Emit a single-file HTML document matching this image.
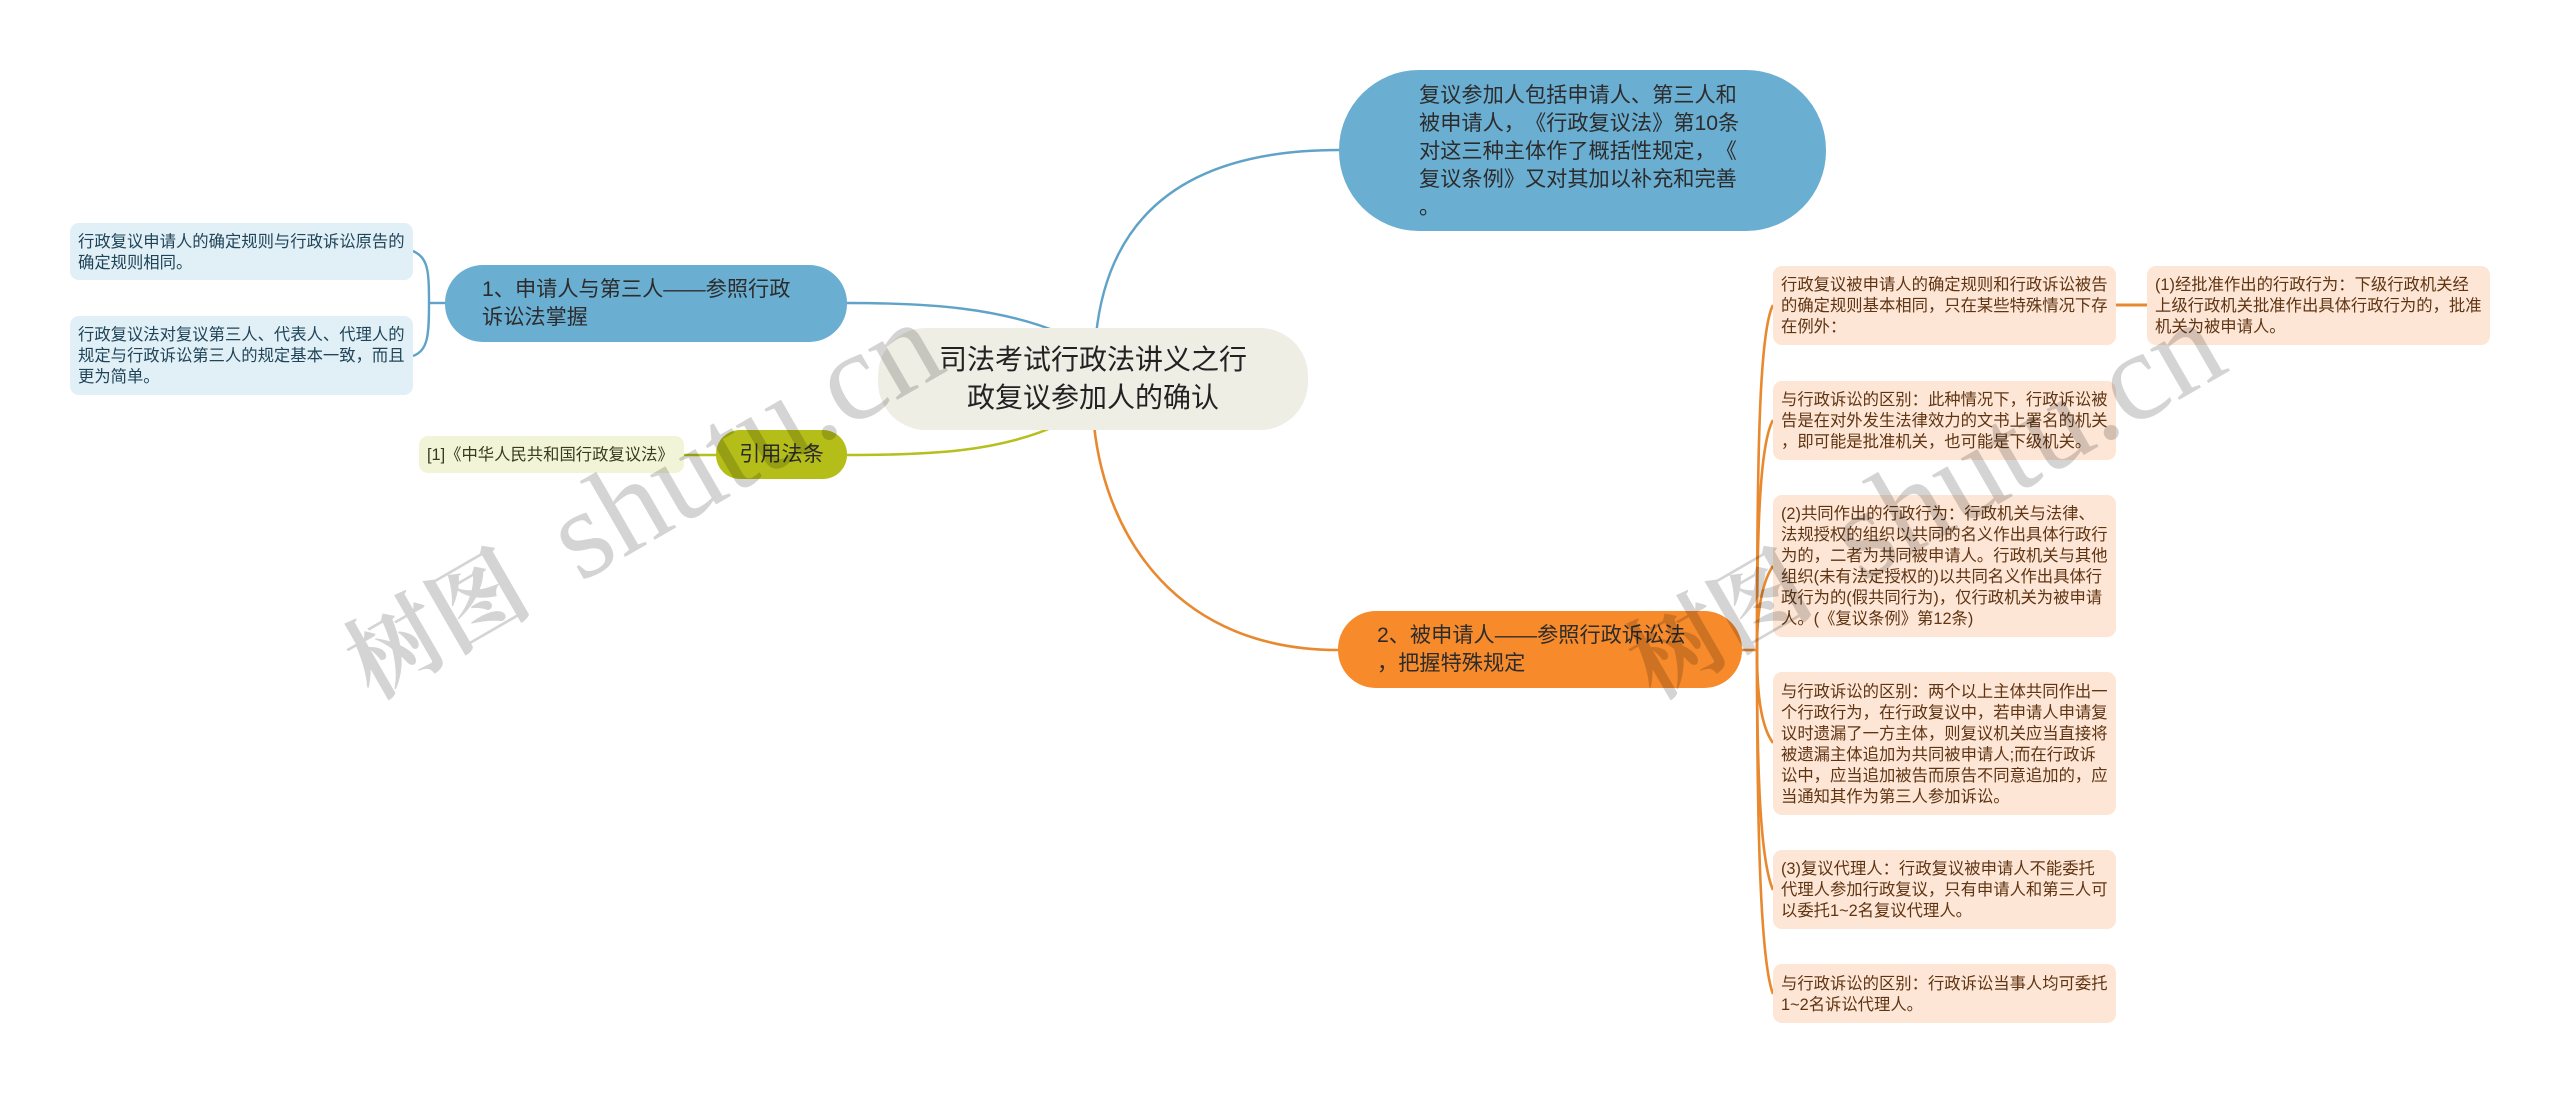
<!DOCTYPE html>
<html lang="zh"><head><meta charset="utf-8"><title>司法考试行政法讲义之行政复议参加人的确认</title>
<style>
html,body{margin:0;padding:0;background:#fff}
#c{position:relative;width:2560px;height:1093px;overflow:hidden;background:#fff;font-family:"Liberation Sans","Noto Sans CJK SC",sans-serif;text-spacing-trim:space-all;font-kerning:none}
.n{position:absolute;box-sizing:border-box;white-space:nowrap;display:flex;flex-direction:column;justify-content:center}
.s{font-size:16.33px;line-height:21px;border-radius:9px;padding:2px 0 0 8px}
.b{background:#e1eff7;color:#1f4458}
.o{background:#fde6d5;color:#5f3413}
.m{font-size:21.2px;line-height:28px;color:#2c2c2c}
svg{position:absolute;left:0;top:0}
</style></head><body><div id="c">
<svg width="2560" height="1093" fill="none">
<g stroke="#5fa3c8" stroke-width="2.4">
<path d="M1096 335C1108 220 1180 150 1339 150"/>
<path d="M1060 333C1000 308 930 303 847 303"/>
<path d="M445 303H429"/>
<path d="M429 303C429 270 428 258 413 251"/>
<path d="M429 303C429 336 428 350 413 356"/>
</g>
<g stroke="#b5bf1d" stroke-width="2.6">
<path d="M1060 424C1000 452 930 455 847 455"/>
<path d="M716 455H684"/>
</g>
<g stroke="#e8892f" stroke-width="2.6">
<path d="M1094 425C1106 540 1180 650 1338 650"/>
<path d="M1742 650H1757"/>
<path d="M1757 650C1757 440 1760 330 1773 305"/>
<path d="M1757 650C1757 540 1759 445 1773 420"/>
<path d="M1757 650C1757 620 1760 585 1773 566"/>
<path d="M1757 650C1757 690 1760 725 1773 743"/>
<path d="M1757 650C1757 770 1760 860 1773 890"/>
<path d="M1757 650C1757 820 1760 960 1773 994"/>
<path d="M2116 305H2147" stroke-width="3"/>
</g>
</svg>

<div class="n" style="left:878px;top:328px;width:430px;height:102px;border-radius:48px;background:#eeeee5;font-size:28px;line-height:38px;color:#222;text-align:center">司法考试行政法讲义之行<br>政复议参加人的确认</div>

<div class="n m" style="left:1339px;top:70px;width:487px;height:161px;border-radius:80px;background:#6aaed2;padding-left:80px;padding-top:2px">复议参加人包括申请人、第三人和<br>被申请人，《行政复议法》第10条<br>对这三种主体作了概括性规定，《<br>复议条例》又对其加以补充和完善<br>。</div>

<div class="n m" style="left:445px;top:265px;width:402px;height:77px;border-radius:38px;background:#6aaed2;padding-left:37px">1、申请人与第三人——参照行政<br>诉讼法掌握</div>

<div class="n m" style="left:1338px;top:611px;width:404px;height:77px;border-radius:38px;background:#f78a2b;padding-left:39px">2、被申请人——参照行政诉讼法<br>，把握特殊规定</div>

<div class="n m" style="left:716px;top:430px;width:131px;height:49px;border-radius:24px;background:#b5be18;text-align:center">引用法条</div>

<div class="n s" style="left:419px;top:436px;width:265px;height:37px;background:#f2f4d8;color:#3a3a20">[1]《中华人民共和国行政复议法》</div>

<div class="n s b" style="left:70px;top:223px;width:343px;height:57px">行政复议申请人的确定规则与行政诉讼原告的<br>确定规则相同。</div>
<div class="n s b" style="left:70px;top:316px;width:343px;height:79px">行政复议法对复议第三人、代表人、代理人的<br>规定与行政诉讼第三人的规定基本一致，而且<br>更为简单。</div>

<div class="n s o" style="left:1773px;top:266px;width:343px;height:79px">行政复议被申请人的确定规则和行政诉讼被告<br>的确定规则基本相同，只在某些特殊情况下存<br>在例外：</div>
<div class="n s o" style="left:2147px;top:266px;width:343px;height:79px">(1)经批准作出的行政行为：下级行政机关经<br>上级行政机关批准作出具体行政行为的，批准<br>机关为被申请人。</div>
<div class="n s o" style="left:1773px;top:381px;width:343px;height:79px">与行政诉讼的区别：此种情况下，行政诉讼被<br>告是在对外发生法律效力的文书上署名的机关<br>，即可能是批准机关，也可能是下级机关。</div>
<div class="n s o" style="left:1773px;top:495px;width:343px;height:142px">(2)共同作出的行政行为：行政机关与法律、<br>法规授权的组织以共同的名义作出具体行政行<br>为的，二者为共同被申请人。行政机关与其他<br>组织(未有法定授权的)以共同名义作出具体行<br>政行为的(假共同行为)，仅行政机关为被申请<br>人。(《复议条例》第12条)</div>
<div class="n s o" style="left:1773px;top:672px;width:343px;height:143px">与行政诉讼的区别：两个以上主体共同作出一<br>个行政行为，在行政复议中，若申请人申请复<br>议时遗漏了一方主体，则复议机关应当直接将<br>被遗漏主体追加为共同被申请人;而在行政诉<br>讼中，应当追加被告而原告不同意追加的，应<br>当通知其作为第三人参加诉讼。</div>
<div class="n s o" style="left:1773px;top:850px;width:343px;height:79px">(3)复议代理人：行政复议被申请人不能委托<br>代理人参加行政复议，只有申请人和第三人可<br>以委托1~2名复议代理人。</div>
<div class="n s o" style="left:1773px;top:964px;width:343px;height:59px">与行政诉讼的区别：行政诉讼当事人均可委托<br>1~2名诉讼代理人。</div>

<svg width="2560" height="1093" style="pointer-events:none">
<g font-family="'Liberation Serif','Noto Serif CJK SC',serif" fill="#000" fill-opacity=".17">
<text transform="translate(372 700) rotate(-30)" font-size="94" font-weight="700">树图</text>
<text transform="translate(580 583) rotate(-30)" font-size="127">shutu.cn</text>
<text transform="translate(1654 700) rotate(-30)" font-size="94" font-weight="700">树图</text>
<text transform="translate(1862 583) rotate(-30)" font-size="127">shutu.cn</text>
</g>
</svg>
</div></body></html>
